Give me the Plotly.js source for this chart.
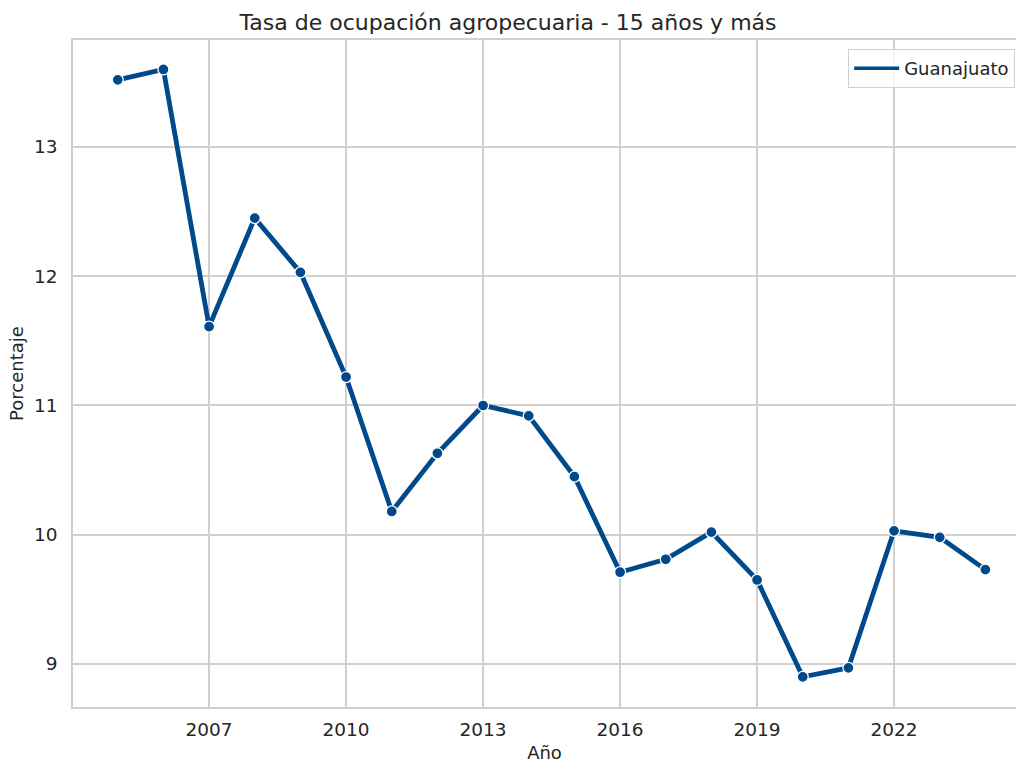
<!DOCTYPE html>
<html>
<head>
<meta charset="utf-8">
<script src="https://cdn.plot.ly/plotly-3.0.1.min.js"></script>
<style>html,body{margin:0;padding:0;background:#fff;}</style>
</head>
<body>
<div id="chart" style="width:1016px;height:763px;"></div>
<script>
const years = [2005,2006,2007,2008,2009,2010,2011,2012,2013,2014,2015,2016,2017,2018,2019,2020,2021,2022,2023,2024];
const guanajuato = [13.52,13.60,11.61,12.45,12.03,11.22,10.18,10.63,11.00,10.92,10.45,9.71,9.81,10.02,9.65,8.90,8.97,10.03,9.98,9.73];
const xTicks = [2007,2010,2013,2016,2019,2022];
const yTicks = [9,10,11,12,13];
const seriesName = 'Guanajuato';
const lineColor = '#00498a';

const trace = {
  x: years, y: guanajuato, type: 'scatter', mode: 'lines+markers', name: seriesName,
  showlegend: false,
  line: {color: lineColor, width: 4.8},
  marker: {color: lineColor, size: 11, line: {color: '#ffffff', width: 1.3}}
};
// legend entry showing only the line, as in the reference
const legendTrace = {
  x: [null], y: [null], type: 'scatter', mode: 'lines', name: seriesName,
  line: {color: lineColor, width: 3.5}, hoverinfo: 'skip'
};
const font = {family: 'DejaVu Sans, sans-serif', color: '#262626'};
const layout = {
  width: 1016, height: 763,
  margin: {l: 73, r: 0, t: 40, b: 56},
  paper_bgcolor: '#fff', plot_bgcolor: '#fff',
  font: font,
  title: {text: 'Tasa de ocupación agropecuaria - 15 años y más', font: {family: font.family, size: 22, color: '#262626'}, x: 0.5, xanchor: 'center', y: 0.971, yanchor: 'middle'},
  xaxis: {
    range: [2004.02, 2024.67], tickvals: xTicks, ticktext: xTicks.map(String),
    showgrid: true, gridcolor: '#d0d0d0', gridwidth: 1.5, zeroline: false,
    showline: true, linecolor: '#d0d0d0', linewidth: 1.5, mirror: true,
    ticks: '', ticklabelstandoff: 5,
    tickfont: {size: 18.5, color: '#262626'},
    title: {text: 'Año', font: {size: 18, color: '#262626'}, standoff: 10}
  },
  yaxis: {
    range: [8.667, 13.828], tickvals: yTicks, ticktext: yTicks.map(String),
    showgrid: true, gridcolor: '#d0d0d0', gridwidth: 1.5, zeroline: false,
    showline: true, linecolor: '#d0d0d0', linewidth: 1.5,
    ticks: '', ticklabelstandoff: 10,
    tickfont: {size: 18.5, color: '#262626'},
    title: {text: 'Porcentaje', font: {size: 18, color: '#262626'}, standoff: 6}
  },
  showlegend: true,
  legend: {x: 0.822, xanchor: 'left', y: 0.9865, yanchor: 'top', itemwidth: 45, bgcolor: 'rgba(255,255,255,0.8)', bordercolor: '#d0d0d0', borderwidth: 1, font: {size: 18, color: '#262626'}},
};
Plotly.newPlot('chart', [trace, legendTrace], layout, {displayModeBar: false});
</script>
</body>
</html>
